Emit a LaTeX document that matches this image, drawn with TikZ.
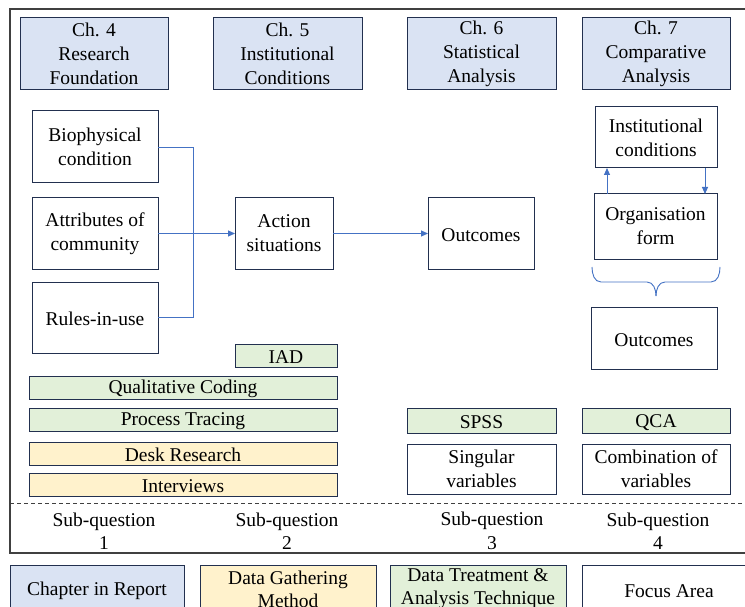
\documentclass[tikz,border=0pt]{standalone}
\usepackage{fontspec}
\setmainfont{Liberation Serif}
\usetikzlibrary{arrows.meta}
\definecolor{chblue}{HTML}{DAE3F3}
\definecolor{tgreen}{HTML}{E2F0D9}
\definecolor{gyellow}{HTML}{FFF2CC}
\definecolor{bord}{HTML}{22304F}
\definecolor{conn}{HTML}{4472C4}
\definecolor{frame}{HTML}{404040}
\tikzset{
  bx/.style={draw=bord, line width=1pt, fill=white, inner sep=0pt, outer sep=0pt, align=center,
    font=\fontsize{19.5}{24}\selectfont, execute at begin node={\rule{0pt}{17pt}}},
  chap/.style={bx, fill=chblue},
  tech/.style={bx, fill=tgreen},
  gath/.style={bx, fill=gyellow},
  lbl/.style={inner sep=0pt, align=center, font=\fontsize{19.5}{23.5}\selectfont},
  cline/.style={draw=conn, line width=0.9pt},
  arr/.style={cline, -{Triangle[length=7pt,width=6pt]}},
}
\begin{document}
\begin{tikzpicture}[x=1pt,y=-1pt]
\useasboundingbox (0,0) rectangle (745,607);
\clip (0,0) rectangle (745,607);
\fill[white] (0,0) rectangle (745,607);
% frame
\draw[frame, line width=1.3pt] (10,9) rectangle (770,553);
\draw[frame, line width=0.9pt, dash pattern=on 4pt off 3pt] (10,503) -- (760,503);
% chapter headers
\node[chap, minimum width=148, minimum height=72] (ch4) at (94,54) {Ch. 4\\Research\\Foundation};
\node[chap, minimum width=149, minimum height=72] (ch5) at (287.5,54) {Ch. 5\\Institutional\\Conditions};
\node[chap, minimum width=149, minimum height=72] (ch6) at (481.5,54) {Ch. 6\\Statistical\\Analysis};
\node[chap, minimum width=148, minimum height=72] (ch7) at (656,54) {Ch. 7\\Comparative\\Analysis};
% IAD elements
\node[bx, minimum width=126, minimum height=72] (bio) at (95,147) {Biophysical\\condition};
\node[bx, minimum width=126, minimum height=71] (attr) at (95,233.5) {Attributes of\\community};
\node[bx, minimum width=126, minimum height=71] (rules) at (95,317.5) {Rules-in-use};
\node[bx, minimum width=98, minimum height=71] (action) at (284,233.5) {Action\\situations};
\node[bx, minimum width=106, minimum height=71] (out1) at (481,233.5) {Outcomes};
\node[bx, minimum width=122, minimum height=61] (inst) at (656,137.5) {Institutional\\conditions};
\node[bx, minimum width=123, minimum height=65] (org) at (655.5,226.5) {Organisation\\form};
\node[bx, minimum width=126, minimum height=62] (out2) at (654,338) {Outcomes};
% techniques
\node[tech, minimum width=102, minimum height=23] (iad) at (286,355.5) {IAD};
\node[tech, minimum width=308, minimum height=23] (qual) at (183,387.5) {Qualitative Coding};
\node[tech, minimum width=308, minimum height=23] (proc) at (183,419.5) {Process Tracing};
\node[gath, minimum width=308, minimum height=23] (desk) at (183,453.5) {Desk Research};
\node[gath, minimum width=308, minimum height=23] (intv) at (183,484.5) {Interviews};
\node[tech, minimum width=149, minimum height=25] (spss) at (481.5,420.5) {SPSS};
\node[tech, minimum width=148, minimum height=25] (qca) at (656,420.5) {QCA};
\node[bx, minimum width=149, minimum height=50] (sing) at (481.5,469) {Singular\\variables};
\node[bx, minimum width=148, minimum height=50] (comb) at (656,469) {Combination of\\variables};
% sub-questions
\node[lbl] (sq1) at (104,531) {Sub-question\\1};
\node[lbl] (sq2) at (287,531) {Sub-question\\2};
\node[lbl] (sq3) at (492,531) {Sub-question\\3};
\node[lbl] (sq4) at (658,531) {Sub-question\\4};
% legend
\node[chap, minimum width=174, minimum height=48] (leg1) at (97,589) {Chapter in Report};
\node[gath, minimum width=176, minimum height=48, font=\fontsize{19.5}{23}\selectfont] (leg2) at (288,589) {Data Gathering\\Method};
\node[tech, minimum width=176, minimum height=48, font=\fontsize{19.5}{23}\selectfont] (leg3) at (478,589) {Data Treatment \&\\Analysis Technique};
\node[bx, minimum width=174, minimum height=48] (leg4) at (669,589) {Focus Area};
% connectors
\coordinate (vx) at (193,0);
\draw[cline] (bio.east) -- (bio.east -| vx) -- (rules.east -| vx) -- (rules.east);
\draw[arr] (attr.east) -- (action.west);
\draw[arr] (action.east) -- (out1.west);
\coordinate (ux) at (607,0);
\coordinate (dx) at (705,0);
\draw[arr] (org.north -| ux) -- (inst.south -| ux);
\draw[arr] (inst.south -| dx) -- (org.north -| dx);
% brace
\coordinate (bt) at (656,296);
\draw[cline] (592,267) to[out=-90,in=180] (601,282) -- (647,282) to[out=0,in=90] (bt);
\draw[cline] (720,267) to[out=-90,in=0] (711,282) -- (665,282) to[out=180,in=90] (bt);
\end{tikzpicture}
\end{document}
